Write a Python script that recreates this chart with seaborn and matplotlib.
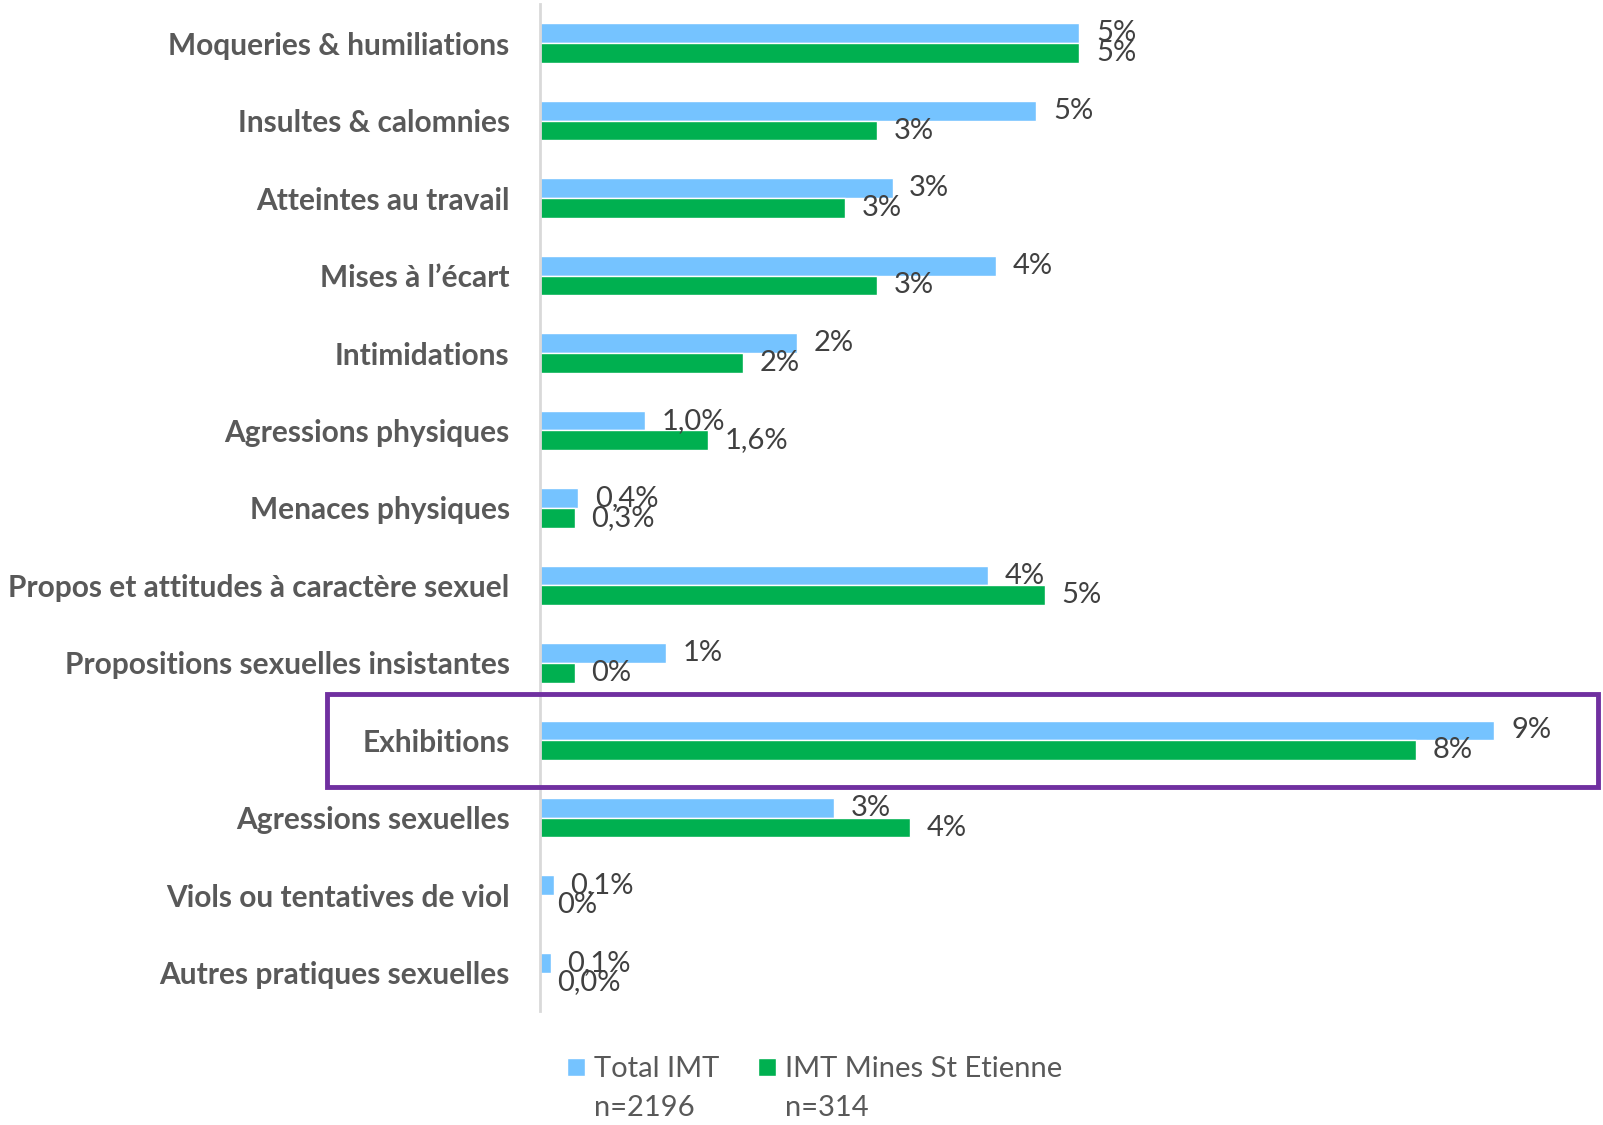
import pandas as pd
import matplotlib.pyplot as plt
import matplotlib.patches as patches
import seaborn as sns

categories = [
    "Moqueries & humiliations",
    "Insultes & calomnies",
    "Atteintes au travail",
    "Mises à l’écart",
    "Intimidations",
    "Agressions physiques",
    "Menaces physiques",
    "Propos et attitudes à caractère sexuel",
    "Propositions sexuelles insistantes",
    "Exhibitions",
    "Agressions sexuelles",
    "Viols ou tentatives de viol",
    "Autres pratiques sexuelles",
]
series_names = ["Total IMT", "IMT Mines St Etienne"]
series_n = ["n=2196", "n=314"]

total_imt = [5.14, 4.73, 3.36, 4.35, 2.45, 1.0, 0.36, 4.27, 1.2, 9.1, 2.8, 0.13, 0.1]
mines_ste = [5.14, 3.21, 2.91, 3.21, 1.93, 1.6, 0.33, 4.81, 0.33, 8.35, 3.53, 0.0, 0.0]

total_labels = ["5%", "5%", "3%", "4%", "2%", "1,0%", "0,4%", "4%", "1%", "9%", "3%", "0,1%", "0,1%"]
mines_labels = ["5%", "3%", "3%", "3%", "2%", "1,6%", "0,3%", "5%", "0%", "8%", "4%", "0%", "0,0%"]

df = pd.DataFrame({
    "Catégorie": categories * 2,
    "Valeur": total_imt + mines_ste,
    "Série": [series_names[0]] * len(categories) + [series_names[1]] * len(categories),
})

sns.set_style("white")
plt.rcParams["font.family"] = ["Lato", "DejaVu Sans"]

fig = plt.figure(figsize=(16.03, 11.25), dpi=100)
ax = fig.add_axes([0.337, 0.101, 0.643, 0.895])

sns.barplot(data=df, x="Valeur", y="Catégorie", hue="Série", orient="h",
            palette=["#75C3FF", "#00B050"], width=0.51, dodge=True,
            errorbar=None, ax=ax, saturation=1)

for cont, labs in zip(ax.containers, [total_labels, mines_labels]):
    ax.bar_label(cont, labels=labs, padding=12, fontsize=21, color="#404040")

ax.set_xlim(0, 9.83)
ax.set_ylim(12.5, -0.5)
ax.set_xlabel("")
ax.set_ylabel("")
ax.set_xticks([])
ax.tick_params(axis="y", length=0, pad=22)
for lab in ax.get_yticklabels():
    lab.set_fontsize(21.5)
    lab.set_fontweight("bold")
    lab.set_color("#595959")
for s in ["top", "right", "bottom"]:
    ax.spines[s].set_visible(False)
ax.spines["left"].set_color("#D9D9D9")
ax.spines["left"].set_linewidth(2)

handles, _ = ax.get_legend_handles_labels()
leg = ax.legend(handles, series_names, loc="upper left", ncol=2, frameon=False,
                fontsize=21, handlelength=0.6, handleheight=0.6, columnspacing=1.35,
                handletextpad=0.3, labelcolor="#595959", borderpad=0, borderaxespad=0,
                bbox_to_anchor=(0.354, 0.061), bbox_transform=fig.transFigure)

box = patches.Rectangle((0.204, 0.3004), 0.793, 0.0826, transform=fig.transFigure,
                        fill=False, edgecolor="#7030A0", linewidth=3.5)
fig.add_artist(box)

# second legend line (sample size) under each entry
fig.canvas.draw()
inv = fig.transFigure.inverted()
for txt, n in zip(leg.get_texts(), series_n):
    bb = txt.get_window_extent()
    x0, y0 = inv.transform((bb.x0, bb.y0 - 39))
    fig.text(x0, y0, n, fontsize=21, color="#595959", ha="left", va="bottom")

fig.savefig("out.png", dpi=100)
